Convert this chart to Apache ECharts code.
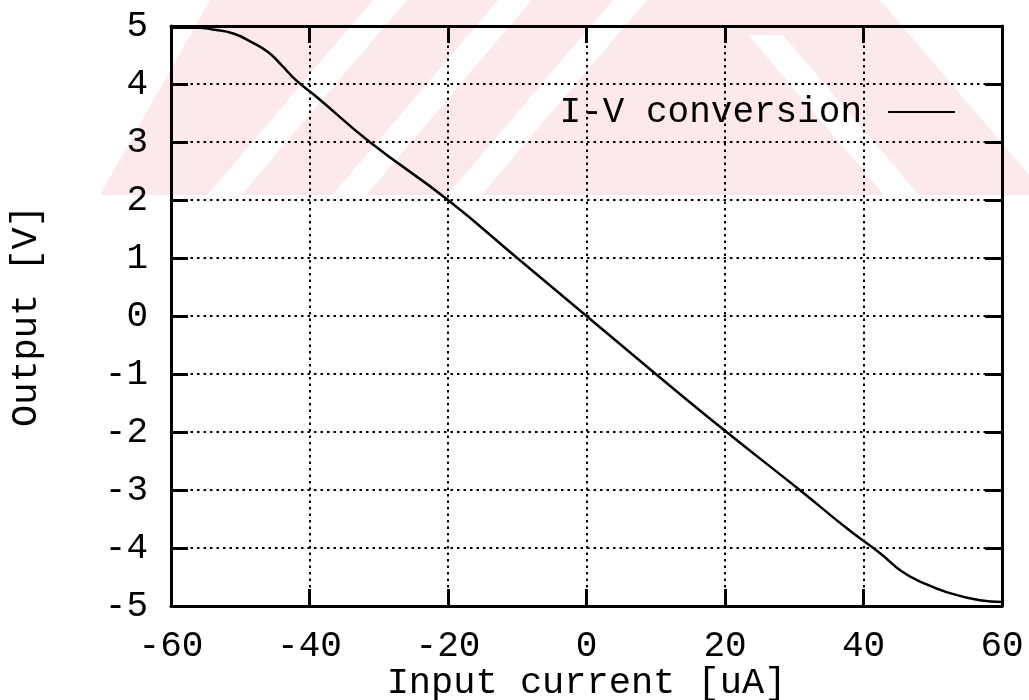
<!DOCTYPE html>
<html>
<head>
<meta charset="utf-8">
<script src="https://cdn.jsdelivr.net/npm/echarts@6/dist/echarts.min.js"></script>
<style>
  html, body { margin: 0; padding: 0; background: #fff; }
  #chart { width: 1029px; height: 700px; }
</style>
</head>
<body>
<div id="chart"></div>
<script>
// Measured transfer curve of the current-to-voltage stage
const inputCurrent = [-60, -56, -54, -51, -48.5, -46, -44, -42, -39, -31.3, -20, -10, 0,
                      10, 20, 30.8, 38, 42.4, 45.5, 48.6, 52, 56.8, 60];
const outputVoltage = [4.97, 4.97, 4.94, 4.87, 4.73, 4.55, 4.32, 4.07, 3.78, 3.0, 2.0, 1.0, 0,
                       -1.0, -1.98, -3.0, -3.7, -4.09, -4.40, -4.6, -4.76, -4.9, -4.93];
const seriesName = 'I-V conversion';
const xRange = [-60, 60];
const xStep = 20;
const yRange = [-5, 5];
const yStep = 1;

const FONT = '"Liberation Mono", "DejaVu Sans Mono", monospace';
const INK = '#000';

// Light striped pattern across the top band of the page
const PINK = '#fde8eb';
const bandBottom = 195;
const lean = 0.85;
const bg = [];
bg.push({ type: 'polygon', z: -20, silent: true,
  shape: { points: [[210, 0], [880, 0], [1029, 175], [1029, bandBottom], [100, bandBottom]] },
  style: { fill: PINK } });
[390, 515, 630].forEach(c => {
  const d = lean * bandBottom;
  bg.push({ type: 'polygon', z: -19, silent: true,
    shape: { points: [[c - 17, 0], [c + 17, 0], [c + 17 - d, bandBottom], [c - 17 - d, bandBottom]] },
    style: { fill: '#fff' } });
});
bg.push({ type: 'polygon', z: -19, silent: true,
  shape: { points: [[748, 35], [783, 35], [783 + lean * (bandBottom - 35), bandBottom], [748 + lean * (bandBottom - 35), bandBottom]] },
  style: { fill: '#fff' } });

const dotted = { show: true, lineStyle: { color: INK, width: 2, type: [2.5, 4] } };
const tick = { show: true, inside: true, length: 17, lineStyle: { color: INK, width: 3 } };

function xAxisDef(pos, main) {
  return {
    type: 'value', position: pos, min: xRange[0], max: xRange[1], interval: xStep,
    axisLine: { show: true, onZero: false, lineStyle: { color: INK, width: 3 } },
    axisTick: tick,
    axisLabel: main ? { show: true, margin: 22, color: INK, fontFamily: FONT, fontSize: 36 } : { show: false },
    splitLine: main ? dotted : { show: false },
    name: main ? 'Input current [uA]' : '',
    nameLocation: 'middle', nameGap: 59, nameMoveOverlap: false,
    nameTextStyle: { color: INK, fontFamily: FONT, fontSize: 37 }
  };
}
function yAxisDef(pos, main) {
  return {
    type: 'value', position: pos, min: yRange[0], max: yRange[1], interval: yStep,
    axisLine: { show: true, onZero: false, lineStyle: { color: INK, width: 3 } },
    axisTick: tick,
    axisLabel: main ? { show: true, margin: 23, color: INK, fontFamily: FONT, fontSize: 36 } : { show: false },
    splitLine: main ? dotted : { show: false },
    name: main ? 'Output [V]' : '',
    nameLocation: 'middle', nameGap: 126, nameRotate: 90, nameMoveOverlap: false,
    nameTextStyle: { color: INK, fontFamily: FONT, fontSize: 37 }
  };
}

const chart = echarts.init(document.getElementById('chart'), null, { renderer: 'canvas' });
chart.setOption({
  backgroundColor: '#fff',
  animation: false,
  graphic: { elements: bg },
  grid: { left: 171, right: 27, top: 26, bottom: 94, containLabel: false, outerBoundsMode: 'none' },
  legend: {
    right: 74, top: 94, padding: 0,
    align: 'right', icon: 'rect', itemWidth: 67, itemHeight: 2,
    textStyle: { color: INK, fontFamily: FONT, fontSize: 36, padding: [0, 21, 0, 0] },
    data: [seriesName]
  },
  xAxis: [xAxisDef('bottom', true), xAxisDef('top', false)],
  yAxis: [yAxisDef('left', true), yAxisDef('right', false)],
  series: [{
    name: seriesName, type: 'line', xAxisIndex: 0, yAxisIndex: 0,
    data: inputCurrent.map((x, i) => [x, outputVoltage[i]]),
    smooth: 0.5, showSymbol: false,
    lineStyle: { color: INK, width: 2.5 }, itemStyle: { color: INK }
  }]
});
</script>
</body>
</html>
